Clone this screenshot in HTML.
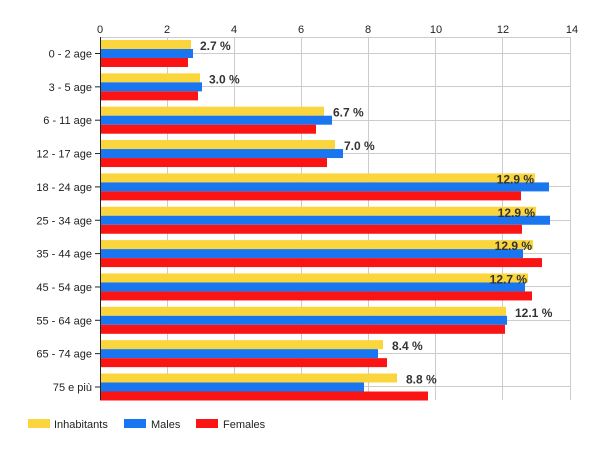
<!DOCTYPE html>
<html><head><meta charset="utf-8"><style>body{margin:0;background:#fff}svg{display:block;font-family:"Liberation Sans",Arial,sans-serif}</style></head><body>
<svg width="600" height="450" xmlns="http://www.w3.org/2000/svg">
<g stroke="#ccc" stroke-width="1">
<line x1="167.5" y1="37" x2="167.5" y2="400"/><line x1="234.5" y1="37" x2="234.5" y2="400"/><line x1="301.5" y1="37" x2="301.5" y2="400"/><line x1="368.5" y1="37" x2="368.5" y2="400"/><line x1="435.5" y1="37" x2="435.5" y2="400"/><line x1="502.5" y1="37" x2="502.5" y2="400"/><line x1="570.5" y1="37" x2="570.5" y2="400"/>
<line x1="100" y1="37.5" x2="570" y2="37.5"/>
<line x1="100" y1="53.5" x2="570" y2="53.5"/><line x1="100" y1="86.5" x2="570" y2="86.5"/><line x1="100" y1="120.5" x2="570" y2="120.5"/><line x1="100" y1="153.5" x2="570" y2="153.5"/><line x1="100" y1="186.5" x2="570" y2="186.5"/><line x1="100" y1="220.5" x2="570" y2="220.5"/><line x1="100" y1="253.5" x2="570" y2="253.5"/><line x1="100" y1="286.5" x2="570" y2="286.5"/><line x1="100" y1="320.5" x2="570" y2="320.5"/><line x1="100" y1="353.5" x2="570" y2="353.5"/><line x1="100" y1="386.5" x2="570" y2="386.5"/>
</g>
<g font-size="11" fill="#222" text-anchor="middle">
<text x="100" y="33">0</text><text x="167" y="33">2</text><text x="234" y="33">4</text><text x="301" y="33">6</text><text x="368" y="33">8</text><text x="436" y="33">10</text><text x="503" y="33">12</text><text x="572" y="33">14</text>
</g>
<g id="bars"></g>
<g stroke="#222"><line x1="100.5" y1="37" x2="100.5" y2="400"/></g>
<g font-size="11" fill="#222" text-anchor="end" id="cats"></g>
<g font-size="12" font-weight="bold" fill="#333" id="lbl"></g>
<g font-size="11" fill="#222">
<rect x="28" y="419" width="22" height="9" fill="#fad53c"/><text x="54" y="428">Inhabitants</text>
<rect x="124" y="419" width="22" height="9" fill="#1a75f0"/><text x="151" y="428">Males</text>
<rect x="196" y="419" width="22" height="9" fill="#fa1414"/><text x="223" y="428">Females</text>
</g>
<script>
var d=[["0 - 2 age",191,193,188,"2.7 %"],["3 - 5 age",200,202,198,"3.0 %"],["6 - 11 age",324,332,316,"6.7 %"],["12 - 17 age",335,343,327,"7.0 %"],["18 - 24 age",535,549,521,"12.9 %"],["25 - 34 age",536,550,522,"12.9 %"],["35 - 44 age",533,523,542,"12.9 %"],["45 - 54 age",528,525,532,"12.7 %"],["55 - 64 age",506,507,505,"12.1 %"],["65 - 74 age",383,378,387,"8.4 %"],["75 e più",397,364,428,"8.8 %"]];
var ns="http://www.w3.org/2000/svg",b=document.getElementById("bars"),c=document.getElementById("cats"),l=document.getElementById("lbl");
function el(p,t,a,tx){var e=document.createElementNS(ns,t);for(var k in a)e.setAttribute(k,a[k]);if(tx)e.textContent=tx;p.appendChild(e);}
d.forEach(function(r,i){var y=40+i*33.35;
el(b,"rect",{x:100,y:y,width:r[1]-100,height:9,fill:"#fad53c"});
el(b,"rect",{x:100,y:y+9,width:r[2]-100,height:9,fill:"#1a75f0"});
el(b,"rect",{x:100,y:y+18,width:r[3]-100,height:9,fill:"#fa1414"});
el(b,"line",{x1:95,x2:100,y1:y+13.5,y2:y+13.5,stroke:"#222"});
el(c,"text",{x:92,y:y+17.5},r[0]);
var inside=(i>=4&&i<=7);
if(inside)el(l,"text",{x:r[1]-1,y:y+10,"text-anchor":"end"},r[4]);else el(l,"text",{x:r[1]+9,y:y+10},r[4]);
});
</script>
</svg>
</body></html>
